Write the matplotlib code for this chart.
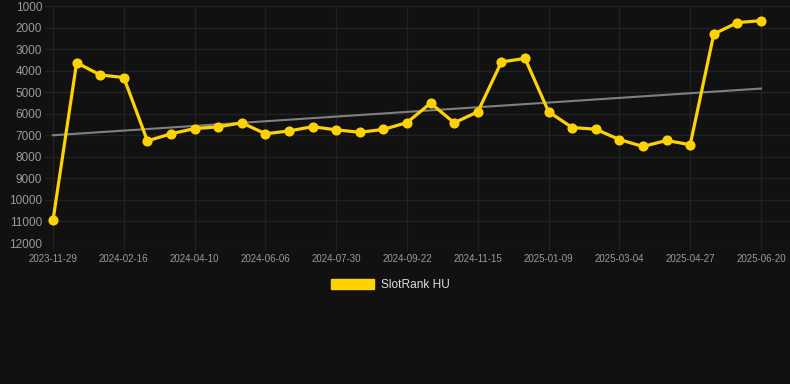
import matplotlib
matplotlib.use("Agg")
import matplotlib.pyplot as plt
from matplotlib.patches import Patch
import numpy as np

plt.rcParams["font.family"] = ["Liberation Sans", "DejaVu Sans"]

tick_labels = ["2023-11-29", "2024-02-16", "2024-04-10", "2024-06-06", "2024-07-30",
               "2024-09-22", "2024-11-15", "2025-01-09", "2025-03-04", "2025-04-27",
               "2025-06-20"]
rank_values = [10950, 3630, 4200, 4320, 7260, 6930, 6690, 6610, 6420, 6930,
               6800, 6600, 6750, 6860, 6730, 6410, 5510, 6420, 5910, 3600,
               3430, 5910, 6640, 6720, 7200, 7520, 7240, 7440, 2300, 1770, 1680]
y_ticks = [1000, 2000, 3000, 4000, 5000, 6000, 7000, 8000, 9000, 10000, 11000, 12000]
series_name = "SlotRank HU"

W, H = 790, 384
fig = plt.figure(figsize=(W / 100, H / 100), dpi=100)
fig.patch.set_facecolor("#111111")

# axes spans grid area; first/last points at x=53 and x=761
ax_left_px, ax_right_px = 45, 790
top_px, bottom_px = 6, 243
ax = fig.add_axes([ax_left_px / W, 1 - bottom_px / H,
                   (ax_right_px - ax_left_px) / W, (bottom_px - top_px) / H])
ax.set_facecolor("#111111")

x = np.arange(len(rank_values))
n = len(rank_values) - 1
ppu = (761 - 53) / n
ax.set_xlim(-(53 - ax_left_px) / ppu, n + (ax_right_px - 761) / ppu)
ax.set_ylim(12000, 1000)

# trend line (linear fit)
coef = np.polyfit(x, rank_values, 1)
ax.plot([x[0], x[-1]], np.polyval(coef, [x[0], x[-1]]), color="#808080", lw=1.5, zorder=2)

ax.plot(x, rank_values, color="#FFD200", lw=2.3, marker="o", markersize=7.3,
        markeredgewidth=0, zorder=3, clip_on=False)

ax.set_yticks(y_ticks)
ax.set_yticklabels([str(v) for v in y_ticks])
ax.set_xticks(x[::3])
ax.set_xticklabels(tick_labels)

ax.grid(True, color="#222222", lw=1)
for s in ax.spines.values():
    s.set_visible(False)
ax.tick_params(axis="y", length=0, pad=2, labelsize=8.5, labelcolor="#9a9a9a")
ax.tick_params(axis="x", length=6, color="#222222", pad=2, labelsize=7, labelcolor="#9a9a9a")

handle = Patch(facecolor="#FFD200", edgecolor="#FFD200")
fig.legend([handle], [series_name], loc="center", bbox_to_anchor=(390 / W, 1 - 285 / H),
           frameon=False, handlelength=3.6, handleheight=1.0, handletextpad=0.6,
           fontsize=8.6, labelcolor="#dddddd")

fig.savefig("out.png", dpi=100, facecolor=fig.get_facecolor())
